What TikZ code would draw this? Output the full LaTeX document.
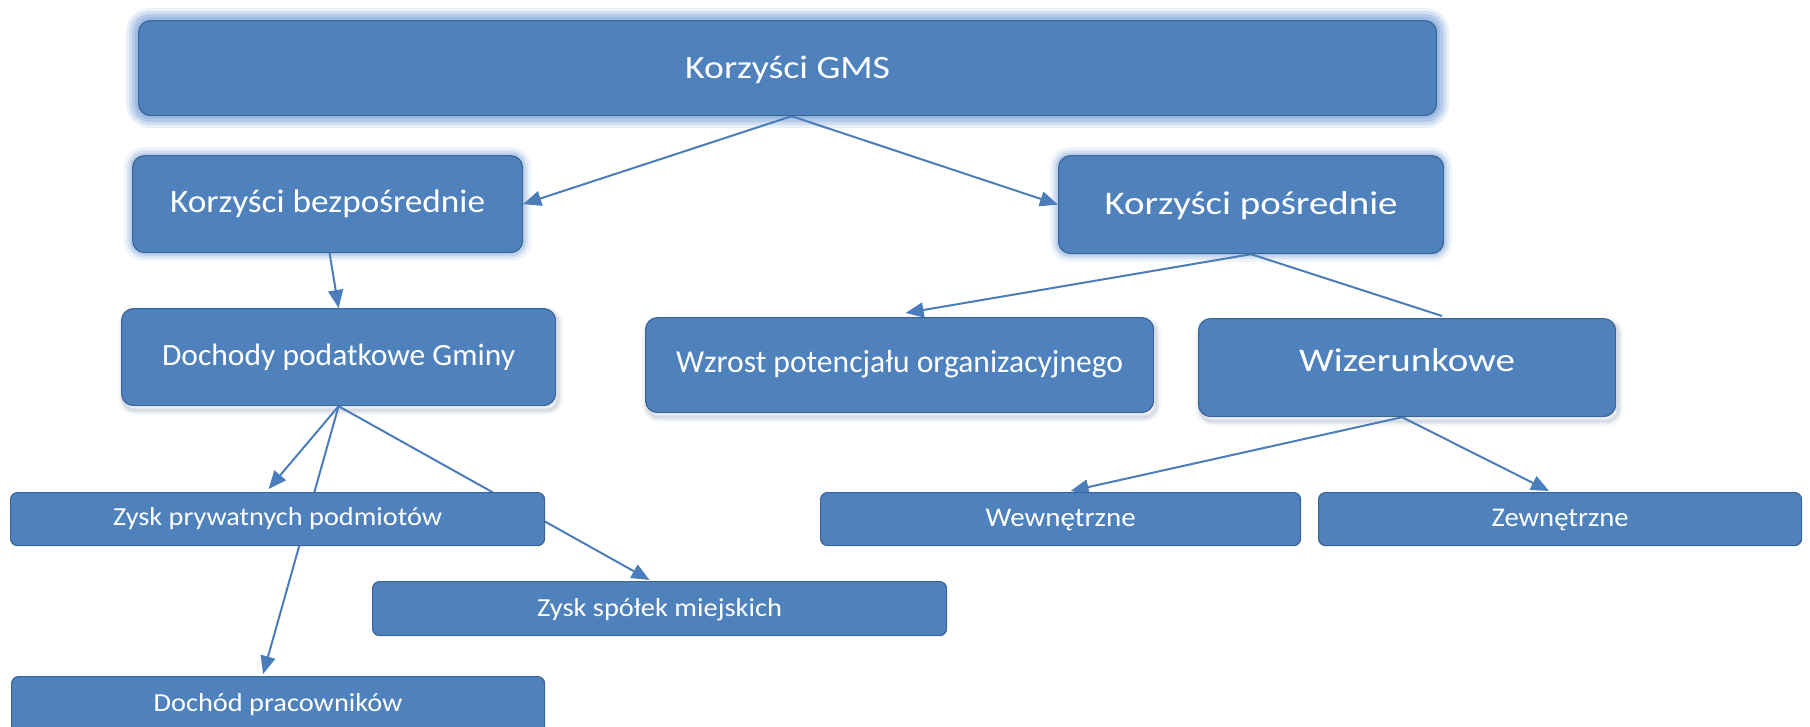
\documentclass[tikz,border=0pt]{standalone}
\usepackage{fontspec}
\setmainfont{Carlito}
\usetikzlibrary{arrows.meta,calc}
\definecolor{boxfill}{HTML}{4F81BD}
\definecolor{boxline}{HTML}{3A6597}
\definecolor{glowc}{HTML}{94B4E0}
\definecolor{edgec}{HTML}{4A7DBA}
\definecolor{shadc}{HTML}{8A9BB0}
\newcommand{\fitt}[3]{\resizebox{#1pt}{\height}{\fontsize{#2pt}{#2pt}\selectfont #3}}
\pgfdeclarelayer{glowlayer}
\pgfdeclarelayer{edgelayer}
\pgfsetlayers{glowlayer,edgelayer,main}
\tikzset{
  box/.style={draw=boxline, fill=boxfill, line width=1.2pt, rounded corners=12pt,
    inner sep=0pt, anchor=north west, text=white, text height=20pt, text depth=0pt},
  smallbox/.style={box, rounded corners=7pt, text height=17pt},
  dims/.style 2 args={minimum width=#1pt, minimum height=#2pt},
  conn/.style={draw=edgec, line width=2pt},
  arr/.style={conn, -{Triangle[length=18pt,width=15pt]}},
}
\begin{document}
\begin{tikzpicture}[x=1pt,y=-1pt]
\useasboundingbox (0,0) rectangle (1810,726);
% level 0
\node[box, dims={1298}{95}] (top) at (138,20) {\fitt{205}{32.6}{Korzyści GMS}};
% level 1
\node[box, dims={390}{97}] (kb) at (132,155) {\raisebox{2pt}{\fitt{315}{32.6}{Korzyści bezpośrednie}}};
\node[box, dims={385}{98}] (kp) at (1058,155) {\fitt{293}{33}{Korzyści pośrednie}};
% level 2
\node[box, dims={434}{97}] (dp) at (121,308) {\raisebox{1.5pt}{\fitt{353}{31}{Dochody podatkowe Gminy}}};
\node[box, dims={508}{95}] (wz) at (645,317) {\raisebox{3pt}{\fitt{447}{32}{Wzrost potencjału organizacyjnego}}};
\node[box, dims={417}{98}] (wi) at (1198,318) {\raisebox{6pt}{\fitt{216}{33}{Wizerunkowe}}};
% level 3
\node[smallbox, dims={534}{53}] (zp) at (10,492) {\raisebox{2pt}{\fitt{329}{26}{Zysk prywatnych podmiotów}}};
\node[smallbox, dims={574}{54}] (zs) at (372,581) {\raisebox{1pt}{\fitt{245}{26}{Zysk spółek miejskich}}};
\node[smallbox, dims={533}{60}] (dpr) at (11,676) {\raisebox{4pt}{\fitt{249}{26}{Dochód pracowników}}};
\node[smallbox, dims={480}{53}] (we) at (820,492) {\raisebox{1.5pt}{\fitt{150}{27}{Wewnętrzne}}};
\node[smallbox, dims={483}{53}] (ze) at (1318,492) {\raisebox{1.5pt}{\fitt{137}{27}{Zewnętrzne}}};

\begin{pgfonlayer}{glowlayer}
  \foreach \w/\o in {24/0.2,18/0.3,12/0.45,6/0.65}
    \draw[glowc, line width=\w pt, opacity=\o, rounded corners=12pt]
      (top.north west) rectangle (top.south east);
  \foreach \n in {kb,kp}
    \foreach \w/\o in {16/0.15,10/0.25,5/0.4}
      \draw[glowc, line width=\w pt, opacity=\o, rounded corners=12pt]
        (\n.north west) rectangle (\n.south east);
  \foreach \n in {dp,wz,wi}
    \foreach \w/\o in {10/0.08,6/0.12,3/0.18}
      \draw[shadc, line width=\w pt, opacity=\o, rounded corners=12pt]
        ($(\n.north west)+(2,4)$) rectangle ($(\n.south east)+(2,4)$);
\end{pgfonlayer}

\begin{pgfonlayer}{edgelayer}
  \draw[arr] ($(top.south)+(4,0)$) -- (kb.east);
  \draw[arr] ($(top.south)+(4,0)$) -- (kp.west);
  \draw[arr] ($(kb.south)+(2,0)$) -- (dp.north);
  \draw[arr] (kp.south) -- ($(wz.north)+(6,-4)$);
  \draw[conn] (kp.south) -- ($(wi.north)+(35,-2)$);
  \draw[arr] (dp.south) -- ($(zp.north)+(-9,-3)$);
  \draw[arr] (dp.south) -- ($(dpr.north)+(-15,-2)$);
  \draw[arr] (dp.south) -- ($(zs.north)+(-10,-1)$);
  \draw[arr] ($(wi.south)+(-5,0)$) -- ($(we.north)+(10,-1)$);
  \draw[arr] ($(wi.south)+(-5,0)$) -- ($(ze.north)+(-11,-1)$);
\end{pgfonlayer}
\end{tikzpicture}
\end{document}
